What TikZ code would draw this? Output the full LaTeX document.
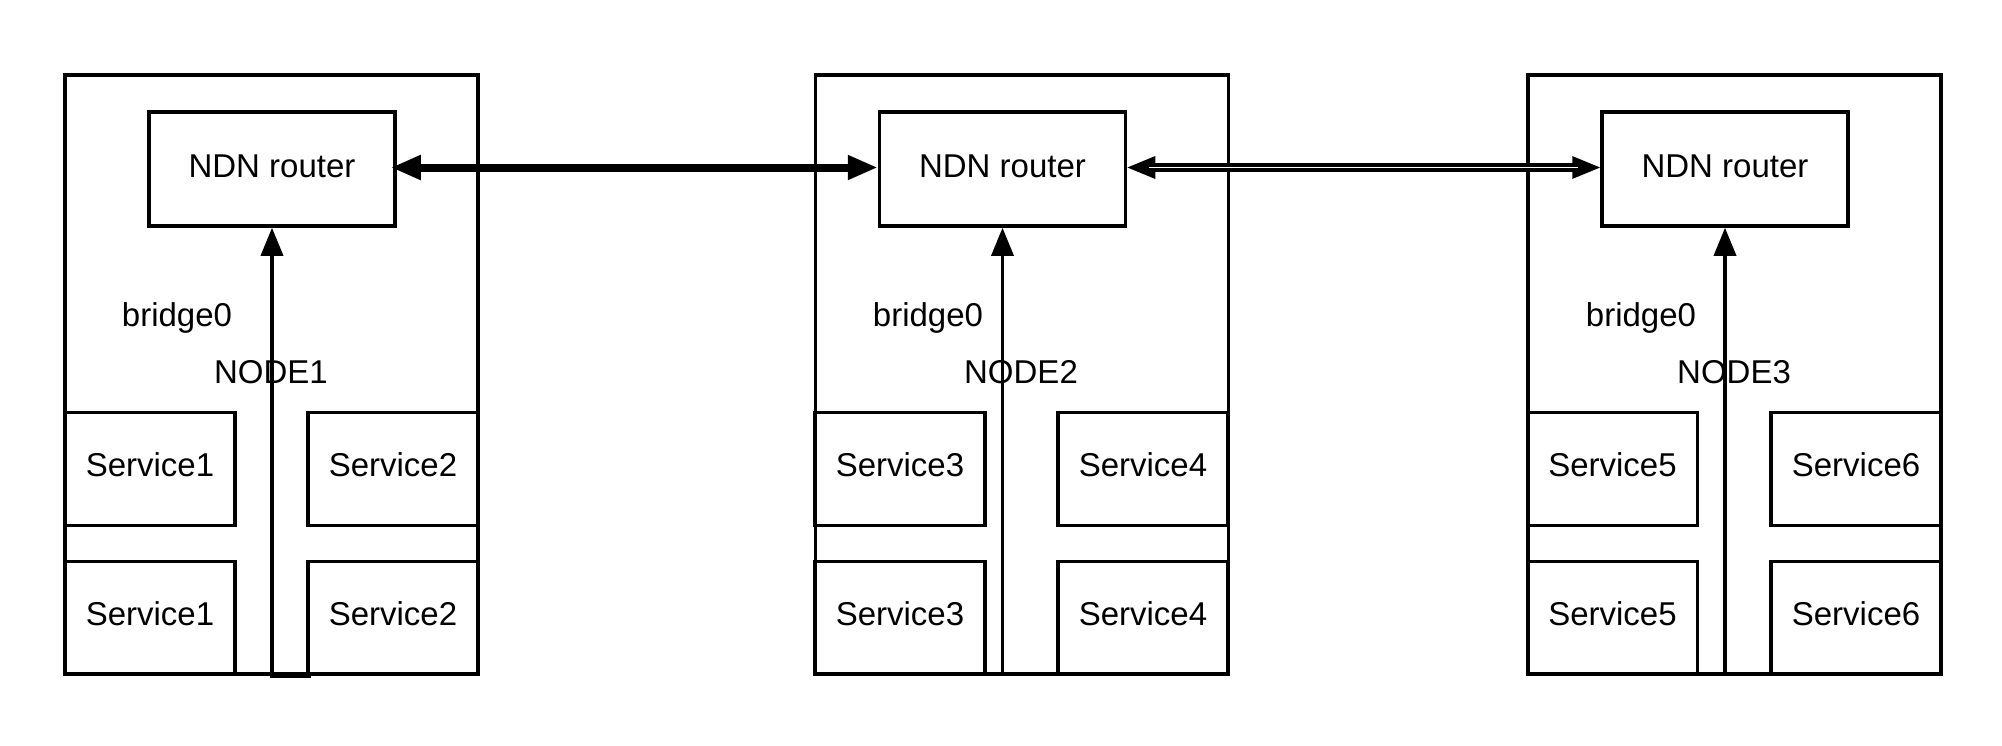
\documentclass[tikz,border=0pt]{standalone}
\usepackage{fontspec}
\setmainfont{Liberation Sans}
\usetikzlibrary{arrows.meta}
\begin{document}
\begin{tikzpicture}[x=1pt,y=-1pt,
  txt/.style={font=\fontsize{33}{40}\selectfont, inner sep=0pt},
  outerbox/.style={draw, line width=3.5pt, minimum width=413pt, minimum height=599pt, inner sep=0pt},
  router/.style={txt, draw, line width=3.5pt, minimum width=246pt, minimum height=114pt, text depth=5pt},
  svc/.style={txt, draw, line width=3.5pt, minimum width=170pt, minimum height=113pt, text depth=8pt},
  uparrow/.style={line width=3.5pt, -{Triangle[length=28pt, width=22pt]}},
  thickarrow/.style={line width=8pt, {Triangle[length=30pt, width=23pt]}-{Triangle[length=30pt, width=23pt]}},
  dblarrow/.style={line width=3.3pt, {Triangle[length=28pt, width=22pt]}-{Triangle[length=28pt, width=22pt]}},
  dblline/.style={line width=3.3pt, double=white, double distance=1.7pt, shorten <=22pt, shorten >=22pt},
]
\useasboundingbox (0,0) rectangle (2002,745);

% NODE1
\node[outerbox] (n1) at (271.5,374.5) {};
\node[router] (r1) at (272,169) {NDN router};
\node[txt] (b1) at (177,318) {bridge0};
\node[txt] (l1) at (271,372) {NODE1};
\node[svc] (s1a) at (150,469) {Service1};
\node[svc] (s2a) at (393,469) {Service2};
\node[svc] (s1b) at (150,618) {Service1};
\node[svc] (s2b) at (393,618) {Service2};

% NODE2
\node[outerbox] (n2) at (1022,374.5) {};
\node[router] (r2) at (1002.5,169) {NDN router};
\node[txt] (b2) at (928,318) {bridge0};
\node[txt] (l2) at (1021,372) {NODE2};
\node[svc] (s3a) at (900,469) {Service3};
\node[svc] (s4a) at (1143,469) {Service4};
\node[svc] (s3b) at (900,618) {Service3};
\node[svc] (s4b) at (1143,618) {Service4};

% NODE3
\node[outerbox] (n3) at (1734.5,374.5) {};
\node[router] (r3) at (1725,169) {NDN router};
\node[txt] (b3) at (1641,318) {bridge0};
\node[txt] (l3) at (1734,372) {NODE3};
\node[svc] (s5a) at (1612.5,469) {Service5};
\node[svc] (s6a) at (1856,469) {Service6};
\node[svc] (s5b) at (1612.5,618) {Service5};
\node[svc] (s6b) at (1856,618) {Service6};

% vertical arrows
\coordinate (c1) at (311,676);
\draw[uparrow] (c1) -| (r1.south);
\coordinate (c2) at (1002.5,674);
\draw[uparrow] (c2) -- (r2.south);
\coordinate (c3) at (1725,674);
\draw[uparrow] (c3) -- (r3.south);

% thick link router1 - router2
\draw[thickarrow] ([xshift=-6pt,yshift=1.5pt]r1.east) -- ([yshift=1.5pt]r2.west);

% double link router2 - router3
\draw[dblarrow] ([yshift=1.5pt]r2.east) -- ([yshift=1.5pt]r3.west);
\draw[dblline] ([yshift=1.5pt]r2.east) -- ([yshift=1.5pt]r3.west);
\end{tikzpicture}
\end{document}
